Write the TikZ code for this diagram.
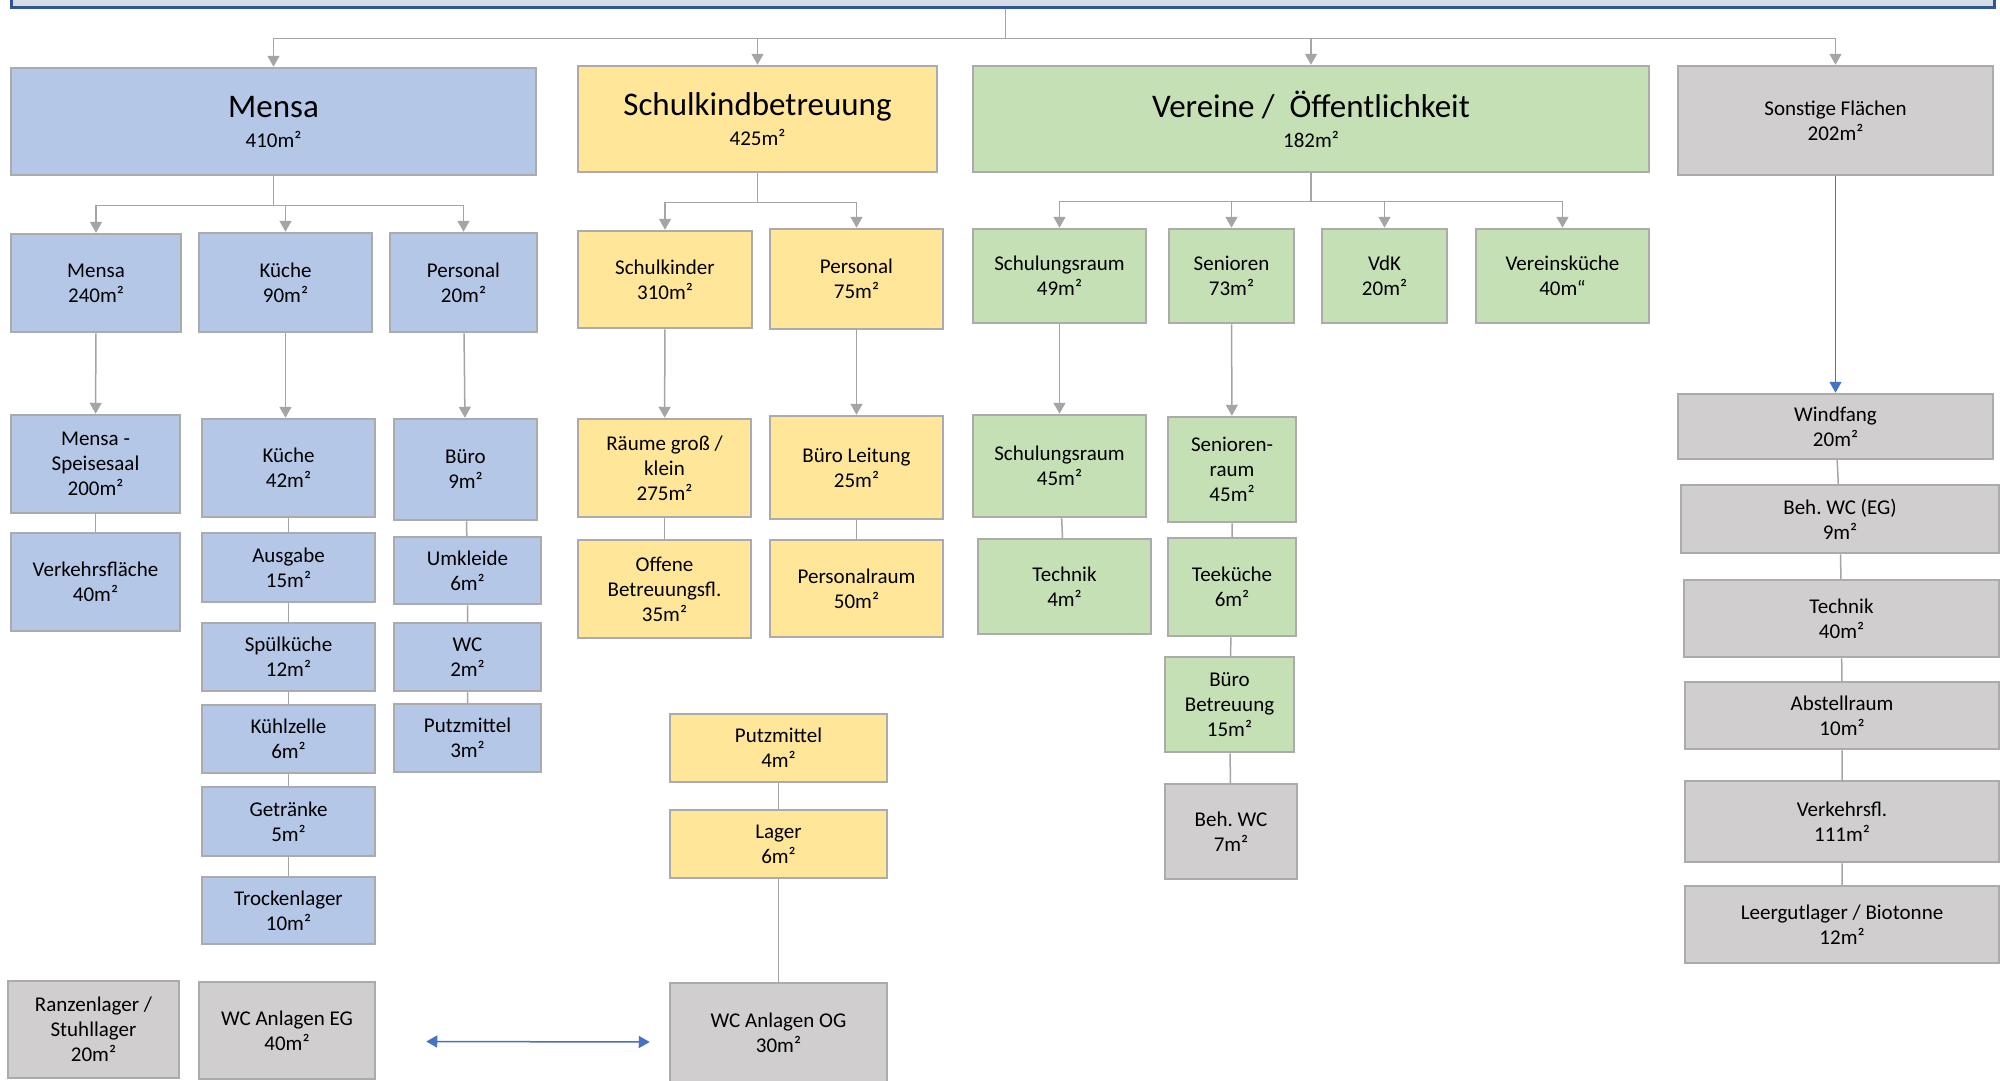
\documentclass[tikz,border=0pt]{standalone}
\usepackage{fontspec}
\setmainfont{Carlito}
\frenchspacing
\usepackage{tikz}
\usetikzlibrary{shapes, arrows.meta}
\definecolor{mensablau}{HTML}{B4C7E7}
\definecolor{schulgelb}{HTML}{FFE699}
\definecolor{vereingruen}{HTML}{C5E0B4}
\definecolor{sonstgrau}{HTML}{D0CECE}
\definecolor{randgrau}{HTML}{ABABAB}
\definecolor{liniengrau}{HTML}{A5A5A5}
\definecolor{pfeilblau}{HTML}{4472C4}
\definecolor{kopfblau}{HTML}{D6DCE5}
\definecolor{kopfrand}{HTML}{2F5597}
\newcommand{\bereich}[1]{{\fontsize{33}{33}\selectfont #1}}
\tikzstyle{box} = [rectangle, draw=randgrau, line width=2.5pt, align=center,
    inner sep=0pt, font=\fontsize{21}{25}\selectfont]
\tikzstyle{mensabox} = [box, fill=mensablau]
\tikzstyle{schulbox} = [box, fill=schulgelb]
\tikzstyle{vereinbox} = [box, fill=vereingruen]
\tikzstyle{sonstbox} = [box, fill=sonstgrau]
\tikzstyle{bigbox} = [font=\fontsize{21}{30}\selectfont]
\tikzstyle{kopf} = [rectangle, draw=kopfrand, fill=kopfblau, line width=3pt]
\tikzstyle{line} = [draw=liniengrau, line width=1.5pt, -{Triangle[length=11pt, width=12pt]}]
\tikzstyle{link} = [draw=liniengrau, line width=1.5pt]
\tikzstyle{blueline} = [draw=pfeilblau, line width=1.5pt, -{Triangle[length=11pt, width=12pt]}]
\tikzstyle{bluebothline} = [draw=pfeilblau, line width=1.5pt,
    {Triangle[length=11pt, width=12pt]}-{Triangle[length=11pt, width=12pt]}]

\begin{document}
\begin{tikzpicture}[x=1pt, y=-1pt, auto]
        \useasboundingbox (0,0) rectangle (2000,1080);
        \fill [white] (0,0) rectangle (2000,1080);
        % Place nodes
        \node [kopf, minimum width=1983pt, minimum height=67pt] (gesamt) at (1002.5,-26.5) {};
        \node [mensabox, bigbox, minimum width=525pt, minimum height=107pt] (mensa) at (273.5,121.5) {\bereich{Mensa}\\410m²};
        \node [schulbox, bigbox, minimum width=359pt, minimum height=106pt] (schulkind) at (757.5,119) {\bereich{Schulkindbetreuung}\\425m²};
        \node [vereinbox, bigbox, minimum width=676pt, minimum height=106pt] (vereine) at (1311,119) {\bereich{Vereine / \ Öffentlichkeit}\\182m²};
        \node [sonstbox, minimum width=315pt, minimum height=109pt] (sonstige) at (1835.5,120.5) {Sonstige Flächen\\202m²};
        % Mensa
        \node [mensabox, minimum width=170pt, minimum height=98pt] (mensa240) at (96,283) {Mensa\\240m²};
        \node [mensabox, minimum width=173pt, minimum height=99pt] (kueche90) at (285.5,282.5) {Küche\\90m²};
        \node [mensabox, minimum width=147pt, minimum height=99pt] (personal20) at (463.5,282.5) {Personal\\20m²};
        \node [mensabox, minimum width=169pt, minimum height=98pt] (speisesaal) at (95.5,464) {Mensa -\\Speisesaal\\200m²};
        \node [mensabox, minimum width=169pt, minimum height=98pt] (verkehr) at (95.5,582) {Verkehrsfläche\\40m²};
        \node [mensabox, minimum width=173pt, minimum height=98pt] (kueche42) at (288.5,468) {Küche\\42m²};
        \node [mensabox, minimum width=173pt, minimum height=69pt] (ausgabe) at (288.5,567.5) {Ausgabe\\15m²};
        \node [mensabox, minimum width=173pt, minimum height=68pt] (spuel) at (288.5,657) {Spülküche\\12m²};
        \node [mensabox, minimum width=173pt, minimum height=68pt] (kuehl) at (288.5,739) {Kühlzelle\\6m²};
        \node [mensabox, minimum width=173pt, minimum height=69pt] (getraenke) at (288.5,821.5) {Getränke\\5m²};
        \node [mensabox, minimum width=173pt, minimum height=67pt] (trocken) at (288.5,910.5) {Trockenlager\\10m²};
        \node [mensabox, minimum width=143pt, minimum height=101pt] (buero9) at (465.5,469.5) {Büro\\9m²};
        \node [mensabox, minimum width=147pt, minimum height=67pt] (umkleide) at (467.5,570.5) {Umkleide\\6m²};
        \node [mensabox, minimum width=147pt, minimum height=68pt] (wc2) at (467.5,657) {WC\\2m²};
        \node [mensabox, minimum width=147pt, minimum height=68pt] (putz3) at (467.5,738) {Putzmittel\\3m²};
        \node [sonstbox, minimum width=171pt, minimum height=97pt] (ranzen) at (93.5,1029.5) {Ranzenlager /\\Stuhllager\\20m²};
        \node [sonstbox, minimum width=176pt, minimum height=97pt] (wceg) at (287,1030.5) {WC Anlagen EG\\40m²};
        % Schulkindbetreuung
        \node [schulbox, minimum width=174pt, minimum height=97pt] (schulkinder) at (665,279.5) {Schulkinder\\310m²};
        \node [schulbox, minimum width=173pt, minimum height=100pt] (personal75) at (856.5,279) {Personal\\75m²};
        \node [schulbox, minimum width=173pt, minimum height=98pt] (raeume) at (664.5,468) {Räume groß /\\klein\\275m²};
        \node [schulbox, minimum width=173pt, minimum height=103pt] (bueroleitung) at (856.5,467.5) {Büro Leitung\\25m²};
        \node [schulbox, minimum width=173pt, minimum height=98pt] (offene) at (664.5,589) {Offene\\Betreuungsfl.\\35m²};
        \node [schulbox, minimum width=173pt, minimum height=97pt] (personalraum) at (856.5,588.5) {Personalraum\\50m²};
        \node [schulbox, minimum width=217pt, minimum height=68pt] (putz4) at (778.5,748) {Putzmittel\\4m²};
        \node [schulbox, minimum width=217pt, minimum height=68pt] (lager) at (778.5,844) {Lager\\6m²};
        \node [sonstbox, minimum width=217pt, minimum height=100pt] (wcog) at (778.5,1033) {WC Anlagen OG\\30m²};
        % Vereine
        \node [vereinbox, minimum width=173pt, minimum height=94pt] (schulung49) at (1059.5,276) {Schulungsraum\\49m²};
        \node [vereinbox, minimum width=125pt, minimum height=94pt] (senioren) at (1231.5,276) {Senioren\\73m²};
        \node [vereinbox, minimum width=125pt, minimum height=94pt] (vdk) at (1384.5,276) {VdK\\20m²};
        \node [vereinbox, minimum width=173pt, minimum height=94pt] (vkueche) at (1562.5,276) {Vereinsküche\\40m“};
        \node [vereinbox, minimum width=173pt, minimum height=102pt] (schulung45) at (1059.5,466) {Schulungsraum\\45m²};
        \node [vereinbox, minimum width=128pt, minimum height=105pt] (seniorenraum) at (1232,469.5) {Senioren-\\raum\\45m²};
        \node [vereinbox, minimum width=173pt, minimum height=95pt] (technik4) at (1064.5,586.5) {Technik\\4m²};
        \node [vereinbox, minimum width=128pt, minimum height=98pt] (teekueche) at (1232,587) {Teeküche\\6m²};
        \node [vereinbox, minimum width=129pt, minimum height=95pt] (buerobetr) at (1229.5,704.5) {Büro\\Betreuung\\15m²};
        \node [sonstbox, minimum width=132pt, minimum height=95pt] (behwc7) at (1231,831.5) {Beh. WC\\7m²};
        % Sonstige Flaechen
        \node [sonstbox, minimum width=315pt, minimum height=65pt] (windfang) at (1835.5,426.5) {Windfang\\20m²};
        \node [sonstbox, minimum width=318pt, minimum height=68pt] (behwceg) at (1840,519) {Beh. WC (EG)\\9m²};
        \node [sonstbox, minimum width=315pt, minimum height=77pt] (technik40) at (1841.5,618.5) {Technik\\40m²};
        \node [sonstbox, minimum width=314pt, minimum height=67pt] (abstell) at (1842,715.5) {Abstellraum\\10m²};
        \node [sonstbox, minimum width=314pt, minimum height=81pt] (verkehrsfl) at (1842,821.5) {Verkehrsfl.\\111m²};
        \node [sonstbox, minimum width=314pt, minimum height=77pt] (leergut) at (1842,924.5) {Leergutlager / Biotonne\\12m²};
        % Draw edges
        \path [line] ([xshift=3pt]gesamt.south) -- ++(0,30) -| (mensa.north);
        \path [line] ([xshift=3pt]gesamt.south) -- ++(0,30) -| (schulkind.north);
        \path [line] ([xshift=3pt]gesamt.south) -- ++(0,30) -| (vereine.north);
        \path [line] ([xshift=3pt]gesamt.south) -- ++(0,30) -| (sonstige.north);
        \path [line] (mensa.south) -- ++(0,29) -| (mensa240.north);
        \path [line] (mensa.south) -- ++(0,29) -| (kueche90.north);
        \path [line] (mensa.south) -- ++(0,29) -| (personal20.north);
        \path [line] (schulkind.south) -- ++(0,29) -| (schulkinder.north);
        \path [line] (schulkind.south) -- ++(0,29) -| (personal75.north);
        \path [line] (vereine.south) -- ++(0,28) -| (schulung49.north);
        \path [line] (vereine.south) -- ++(0,28) -| (senioren.north);
        \path [line] (vereine.south) -- ++(0,28) -| (vdk.north);
        \path [line] (vereine.south) -- ++(0,28) -| (vkueche.north);
        \path [line] (mensa240) -- (speisesaal);
        \path [line] (kueche90.south) -- (kueche90.south |- kueche42.north);
        \path [line] (personal20) -- (buero9);
        \path [line] (schulkinder) -- (raeume);
        \path [line] (personal75) -- (bueroleitung);
        \path [line] (schulung49) -- (schulung45);
        \path [line] (senioren) -- (seniorenraum);
        \path [blueline] (sonstige) -- (windfang);
        \path [link] (speisesaal) -- (verkehr);
        \path [link] (kueche42) -- (ausgabe) -- (spuel) -- (kuehl) -- (getraenke) -- (trocken);
        \path [link] (buero9) -- (umkleide) -- (wc2) -- (putz3);
        \path [link] (raeume) -- (offene);
        \path [link] (bueroleitung) -- (personalraum);
        \path [link] (putz4) -- (lager) -- (wcog);
        \path [link] (schulung45) -- (technik4);
        \path [link] (seniorenraum) -- (teekueche) -- (buerobetr) -- (behwc7);
        \path [link] (windfang) -- (behwceg) -- (technik40) -- (abstell) -- (verkehrsfl) -- (leergut);
        \path [bluebothline] ([xshift=50pt,yshift=-11pt]wceg.east) -- ([xshift=-19pt,yshift=-9pt]wcog.west);
    \end{tikzpicture}
\end{document}
